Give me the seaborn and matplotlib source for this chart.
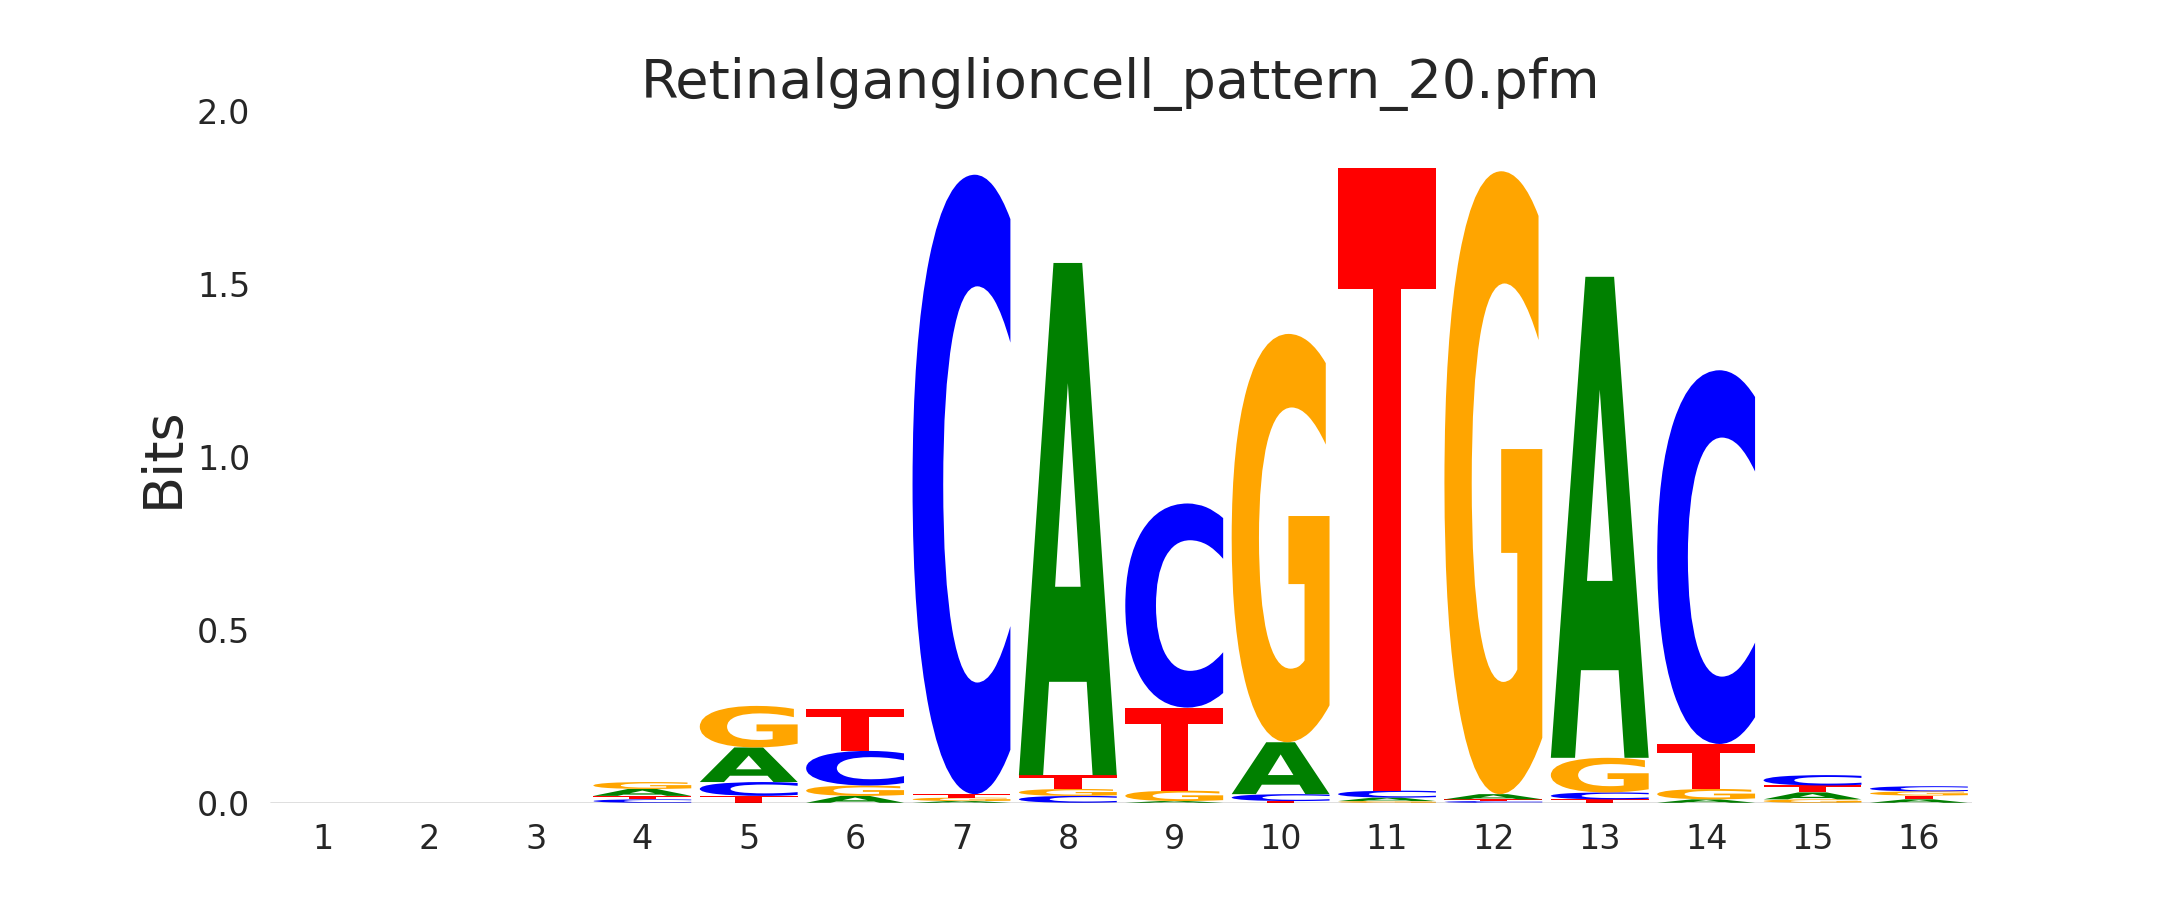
import numpy as np
import pandas as pd
import seaborn as sns
import matplotlib
matplotlib.use("Agg")
import matplotlib.pyplot as plt
from matplotlib.textpath import TextPath
from matplotlib.patches import PathPatch
from matplotlib.font_manager import FontProperties
from matplotlib.transforms import Affine2D

positions = list(range(1, 17))
bits_A = [0, 0, 0, 0.02, 0.10, 0.02, 0.005, 1.48, 0.005, 0.15, 0.01, 0.015, 1.39, 0.01, 0.02, 0.01]
bits_C = [0, 0, 0, 0.01, 0.04, 0.10, 1.79, 0.02, 0.59, 0.02, 0.02, 0.005, 0.02, 1.08, 0.03, 0.015]
bits_G = [0, 0, 0, 0.02, 0.12, 0.03, 0.01, 0.02, 0.03, 1.18, 0.005, 1.80, 0.10, 0.03, 0.01, 0.012]
bits_T = [0, 0, 0, 0.01, 0.02, 0.12, 0.01, 0.04, 0.24, 0.005, 1.80, 0.005, 0.01, 0.13, 0.02, 0.011]

colors = {"A": "green", "C": "blue", "G": "orange", "T": "red"}

df = pd.DataFrame({"A": bits_A, "C": bits_C, "G": bits_G, "T": bits_T}, index=positions)

sns.set_theme(style="white")
fp = FontProperties(family="DejaVu Sans", weight="bold")


def draw_letter(ax, letter, x, y, h, width=0.92):
    tp = TextPath((0, 0), letter, size=1, prop=fp)
    bb = tp.get_extents()
    t = (Affine2D().translate(-bb.x0, -bb.y0)
         .scale(width / bb.width, h / bb.height)
         .translate(x - width / 2, y))
    ax.add_patch(PathPatch(t.transform_path(tp), fc=colors[letter], ec="none"))


fig, ax = plt.subplots(figsize=(14.4, 6), dpi=150)
fig.subplots_adjust(left=0.125, right=0.913, top=0.877, bottom=0.108)

for pos, row in df.iterrows():
    y = 0
    for letter, h in sorted(row.items(), key=lambda kv: kv[1]):
        if h > 0:
            draw_letter(ax, letter, pos, y, h)
            y += h

ax.axhline(0, color="black", lw=0.6)
ax.set_xlim(0.5, 16.5)
ax.set_ylim(0, 2)
ax.set_xticks(positions)
ax.set_yticks([0, 0.5, 1.0, 1.5, 2.0])
ax.tick_params(labelsize=16)
ax.set_ylabel("Bits", fontsize=26)
ax.set_title("Retinalganglioncell_pattern_20.pfm", fontsize=26)
sns.despine(left=True, bottom=True)
fig.savefig("out.png")
